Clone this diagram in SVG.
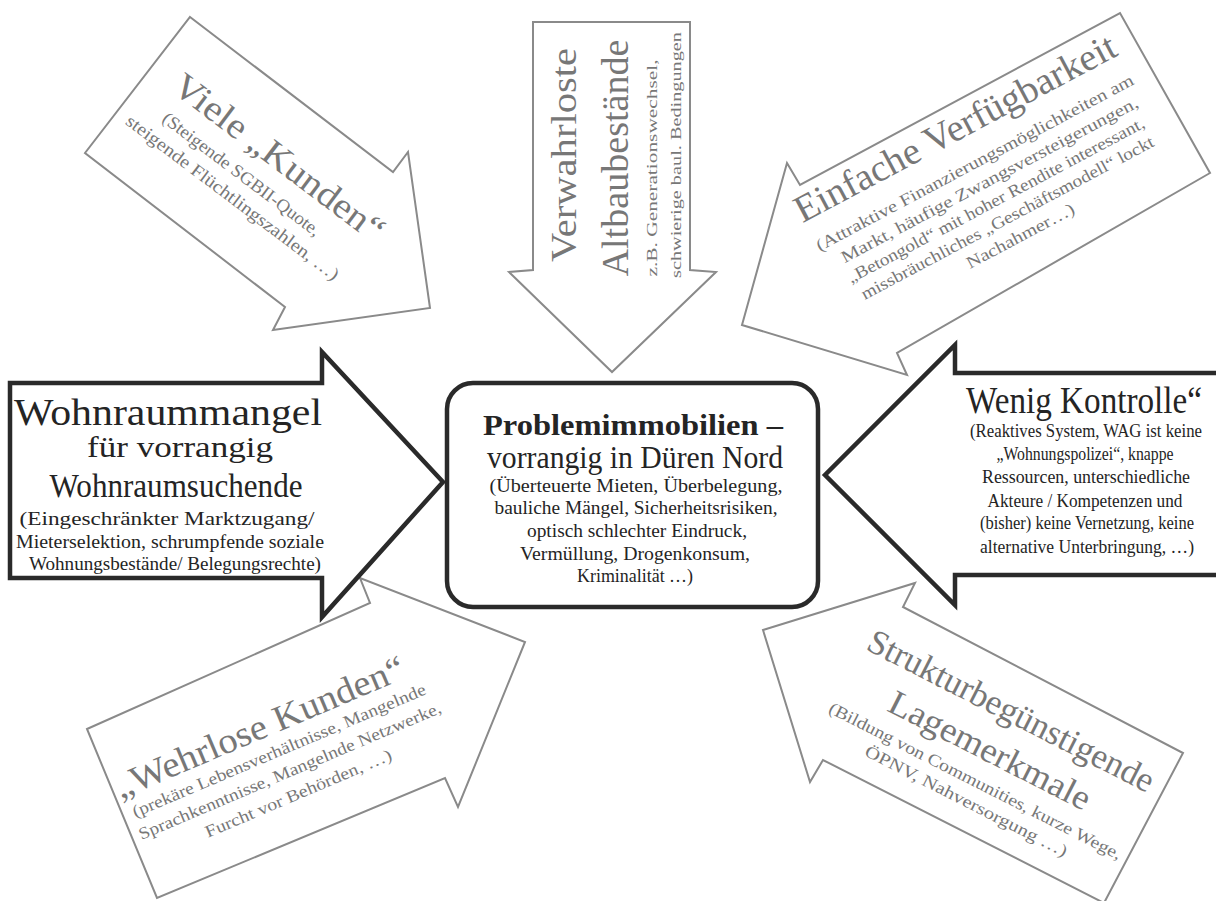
<svg xmlns="http://www.w3.org/2000/svg" width="1216" height="901" viewBox="0 0 1216 901">
<style>
.g{fill:#fff;stroke:#8a8a8a;stroke-width:2;stroke-linejoin:miter}
.d{fill:#fff;stroke:#2a2a2a;stroke-width:4.5;stroke-linejoin:miter}
text{font-family:"Liberation Serif","Times New Roman",serif;text-anchor:middle}
.tg{fill:#777}
.td{fill:#242424}
.b{font-weight:bold}
</style>
<rect width="1216" height="901" fill="#fff"/>
<g id="connectors">
<g id="arrow-viele-kunden">
<polygon class="g" points="190,17 393,172 408,152 430,308 273,330 285,307 85,153"/>
<g transform="translate(272,167) rotate(37)" class="tg">
<text x="0" y="0" font-size="36" textLength="254" lengthAdjust="spacingAndGlyphs">Viele „Kunden“</text>
<text x="-20" y="30" font-size="18" textLength="193" lengthAdjust="spacingAndGlyphs">(Steigende SGBII-Quote,</text>
<text x="-13" y="54" font-size="18" textLength="262" lengthAdjust="spacingAndGlyphs">steigende Flüchtlingszahlen, …)</text>
</g>
</g>
<g id="arrow-verwahrloste">
<polygon class="g" points="533,22 690,22 690,270 716,272 612,372 509,272 533,270"/>
<g class="tg">
<text transform="translate(576,155) rotate(-90)" font-size="36" textLength="214" lengthAdjust="spacingAndGlyphs">Verwahrloste</text>
<text transform="translate(628,158) rotate(-90)" font-size="38" textLength="237" lengthAdjust="spacingAndGlyphs">Altbaubestände</text>
<text transform="translate(657,168) rotate(-90)" font-size="15" textLength="217" lengthAdjust="spacingAndGlyphs">z.B. Generationswechsel,</text>
<text transform="translate(681,155) rotate(-90)" font-size="15" textLength="246" lengthAdjust="spacingAndGlyphs">schwierige baul. Bedingungen</text>
</g>
</g>
<g id="arrow-einfache-verfuegbarkeit">
<polygon class="g" points="742,325 787,163 800,185 1120,13 1210,173 897,353 907,375"/>
<g transform="translate(961,139) rotate(-28)" class="tg">
<text x="0" y="0" font-size="38" textLength="359" lengthAdjust="spacingAndGlyphs">Einfache Verfügbarkeit</text>
<text x="1" y="33" font-size="17" textLength="357" lengthAdjust="spacingAndGlyphs">(Attraktive  Finanzierungsmöglichkeiten am</text>
<text x="6" y="55" font-size="17" textLength="334" lengthAdjust="spacingAndGlyphs">Markt, häufige Zwangsversteigerungen,</text>
<text x="2" y="76" font-size="17" textLength="334" lengthAdjust="spacingAndGlyphs">„Betongold“ mit hoher Rendite interessant,</text>
<text x="4" y="97" font-size="17" textLength="329" lengthAdjust="spacingAndGlyphs">missbräuchliches „Geschäftsmodell“ lockt</text>
<text x="7" y="119" font-size="17" textLength="120" lengthAdjust="spacingAndGlyphs">Nachahmer…)</text>
</g>
</g>
<g id="arrow-wehrlose-kunden">
<polygon class="g" points="87,729 370,603 360,578 525,642 458,807 445,778 157,898"/>
<g transform="translate(264,738) rotate(-23)" class="tg">
<text x="0" y="0" font-size="36" textLength="312" lengthAdjust="spacingAndGlyphs">„Wehrlose  Kunden“</text>
<text x="9" y="23" font-size="17" textLength="317" lengthAdjust="spacingAndGlyphs">(prekäre Lebensverhältnisse, Mangelnde</text>
<text x="11" y="46" font-size="17" textLength="327" lengthAdjust="spacingAndGlyphs">Sprachkenntnisse, Mangelnde Netzwerke,</text>
<text x="10" y="70" font-size="17" textLength="201" lengthAdjust="spacingAndGlyphs">Furcht vor Behörden, …)</text>
</g>
</g>
<g id="arrow-strukturbeguenstigende">
<polygon class="g" points="763,630 915,583 903,607 1183,753 1104,903 823,760 810,782"/>
<g transform="translate(1006,721) rotate(27)" class="tg">
<text x="0" y="0" font-size="35" textLength="317" lengthAdjust="spacingAndGlyphs">Strukturbegünstigende</text>
<text x="-1" y="45" font-size="35" textLength="222" lengthAdjust="spacingAndGlyphs">Lagemerkmale</text>
<text x="0" y="73" font-size="17" textLength="326" lengthAdjust="spacingAndGlyphs">(Bildung von Communities, kurze Wege,</text>
<text x="1" y="95" font-size="17" textLength="225" lengthAdjust="spacingAndGlyphs">ÖPNV, Nahversorgung …)</text>
</g>
</g>
<g id="arrow-wohnraummangel">
<polygon class="d" points="10,383 322,383 322,352 443,482 322,617 322,578 10,578"/>
<g class="td">
<text x="168" y="425" font-size="38" textLength="308" lengthAdjust="spacingAndGlyphs">Wohnraummangel</text>
<text x="180" y="457" font-size="29" textLength="186" lengthAdjust="spacingAndGlyphs">für vorrangig</text>
<text x="176" y="497" font-size="33" textLength="253" lengthAdjust="spacingAndGlyphs">Wohnraumsuchende</text>
<text x="167" y="525" font-size="19" textLength="295" lengthAdjust="spacingAndGlyphs">(Eingeschränkter Marktzugang/</text>
<text x="170" y="548" font-size="19" textLength="308" lengthAdjust="spacingAndGlyphs">Mieterselektion, schrumpfende soziale</text>
<text x="175" y="570" font-size="19" textLength="292" lengthAdjust="spacingAndGlyphs">Wohnungsbestände/ Belegungsrechte)</text>
</g>
</g>
<g id="arrow-wenig-kontrolle">
<polygon class="d" points="1222,373 955,373 955,345 825,475 955,605 955,575 1222,575"/>
<g class="td">
<text x="1084" y="413" font-size="37" textLength="236" lengthAdjust="spacingAndGlyphs">Wenig Kontrolle“</text>
<text x="1086" y="437" font-size="19" textLength="232" lengthAdjust="spacingAndGlyphs">(Reaktives System, WAG ist keine</text>
<text x="1085" y="460" font-size="19" textLength="177" lengthAdjust="spacingAndGlyphs">„Wohnungspolizei“, knappe</text>
<text x="1086" y="483" font-size="19" textLength="208" lengthAdjust="spacingAndGlyphs">Ressourcen, unterschiedliche</text>
<text x="1085" y="507" font-size="19" textLength="195" lengthAdjust="spacingAndGlyphs">Akteure / Kompetenzen und</text>
<text x="1087" y="529" font-size="19" textLength="214" lengthAdjust="spacingAndGlyphs">(bisher) keine Vernetzung, keine</text>
<text x="1087" y="553" font-size="19" textLength="214" lengthAdjust="spacingAndGlyphs">alternative Unterbringung,  …)</text>
</g>
</g>
</g>
<g id="node-problemimmobilien">
<rect class="d" x="447" y="383" width="371" height="224" rx="26" ry="26"/>
<g class="td">
<text class="b" x="633" y="435" font-size="30" textLength="300" lengthAdjust="spacingAndGlyphs">Problemimmobilien –</text>
<text x="635" y="468" font-size="31" textLength="296" lengthAdjust="spacingAndGlyphs">vorrangig in Düren Nord</text>
<text x="636" y="492" font-size="19" textLength="293" lengthAdjust="spacingAndGlyphs">(Überteuerte Mieten, Überbelegung,</text>
<text x="636" y="514" font-size="19" textLength="283" lengthAdjust="spacingAndGlyphs">bauliche Mängel, Sicherheitsrisiken,</text>
<text x="637" y="537" font-size="19" textLength="220" lengthAdjust="spacingAndGlyphs">optisch schlechter Eindruck,</text>
<text x="635" y="560" font-size="19" textLength="230" lengthAdjust="spacingAndGlyphs">Vermüllung, Drogenkonsum,</text>
<text x="635" y="582" font-size="19" textLength="116" lengthAdjust="spacingAndGlyphs">Kriminalität …)</text>
</g>
</g>
</svg>
